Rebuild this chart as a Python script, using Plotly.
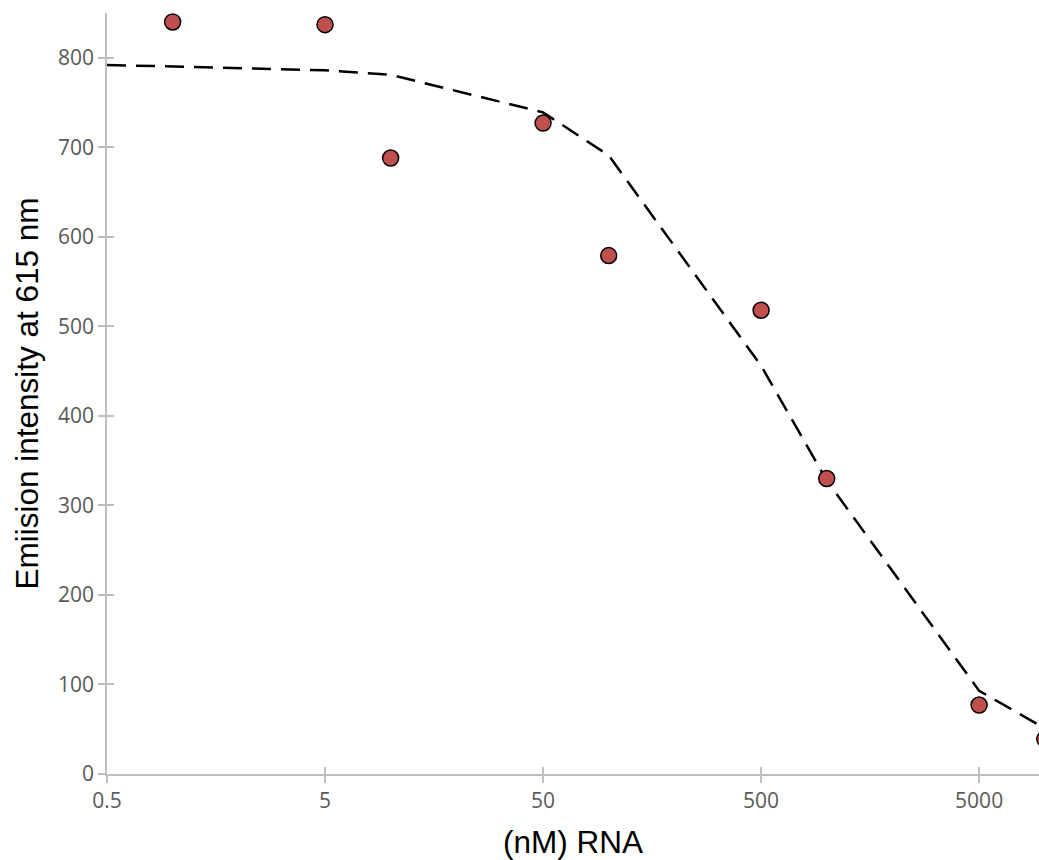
import math
import plotly.graph_objects as go

# Data
rna_nM = [1, 5, 10, 50, 100, 500, 1000, 5000, 10000]
emission = [840, 837, 688, 727, 579, 518, 330, 77, 39]

fit_x = [0.5, 1, 5, 10, 50, 100, 500, 1000, 5000, 10000]
fit_y = [792, 790, 786, 781, 739, 691, 456, 328, 93, 51]

x_ticks = [0.5, 5, 50, 500, 5000]
x_tick_text = ["0.5", "5", "50", "500", "5000"]
y_ticks = [0, 100, 200, 300, 400, 500, 600, 700, 800]

x_title = "(nM) RNA"
y_title = "Emiision intensity at 615 nm"

W, H = 1039, 860
left, top = 106.7, 13
axis_y = 774.5
bottom = H - axis_y
decade_px = 218.1
x0 = math.log10(0.5)
x1 = x0 + (W - left) / decade_px
x_range = [x0, x1]
y_range = [0, 850]

axis_col = "#BFBFBF"
tick_font = dict(family="Open Sans, Liberation Sans, sans-serif", size=21, color="#595959")
title_font = dict(family="Liberation Sans, Arial, sans-serif", size=31.5, color="#000000")

fig = go.Figure()
fig.add_trace(go.Scatter(
    x=fit_x, y=fit_y, mode="lines",
    line=dict(color="black", width=2.5, dash="19px,10px"),
    showlegend=False, hoverinfo="skip",
))
fig.add_trace(go.Scatter(
    x=rna_nM, y=emission, mode="markers",
    marker=dict(size=16, color="#C0504D", line=dict(color="black", width=1.5)),
    cliponaxis=True, showlegend=False,
))

fig.update_layout(
    width=W, height=H,
    margin=dict(l=left, r=0, t=top, b=bottom, pad=0),
    plot_bgcolor="white", paper_bgcolor="white",
    xaxis=dict(
        type="log", range=x_range, tickvals=x_ticks, ticktext=x_tick_text,
        showgrid=False, zeroline=False, showline=True, linecolor=axis_col, linewidth=1.5,
        ticks="outside", ticklen=7, tickwidth=1.5, tickcolor=axis_col,
        tickfont=tick_font,
        title=dict(text=x_title, font=title_font, standoff=20),
    ),
    yaxis=dict(
        range=y_range, tickvals=y_ticks,
        showgrid=False, zeroline=False, showline=True, linecolor=axis_col, linewidth=1.5,
        ticks="outside", ticklen=7, tickwidth=1.5, tickcolor=axis_col,
        tickfont=tick_font,
        title=dict(text=y_title, font=title_font, standoff=10),
    ),
    xaxis2=dict(
        type="log", range=x_range, tickvals=x_ticks, overlaying="x", anchor="y", side="bottom",
        showgrid=False, zeroline=False, showline=False, showticklabels=False,
        ticks="inside", ticklen=7, tickwidth=1.5, tickcolor=axis_col,
    ),
    yaxis2=dict(
        range=y_range, tickvals=y_ticks, overlaying="y", anchor="x", side="left",
        showgrid=False, zeroline=False, showline=False, showticklabels=False,
        ticks="inside", ticklen=7, tickwidth=1.5, tickcolor=axis_col,
    ),
)
# invisible trace to activate overlay axes
fig.add_trace(go.Scatter(x=[fit_x[0]], y=[fit_y[0]], xaxis="x2", yaxis="y2",
                         mode="markers", marker=dict(opacity=0), showlegend=False, hoverinfo="skip"))

fig.write_html(
    "out.html",
    config={"displayModeBar": False},
    post_script="document.body.style.margin='0';document.body.style.overflow='hidden';"
                "document.documentElement.style.overflow='hidden';",
)
